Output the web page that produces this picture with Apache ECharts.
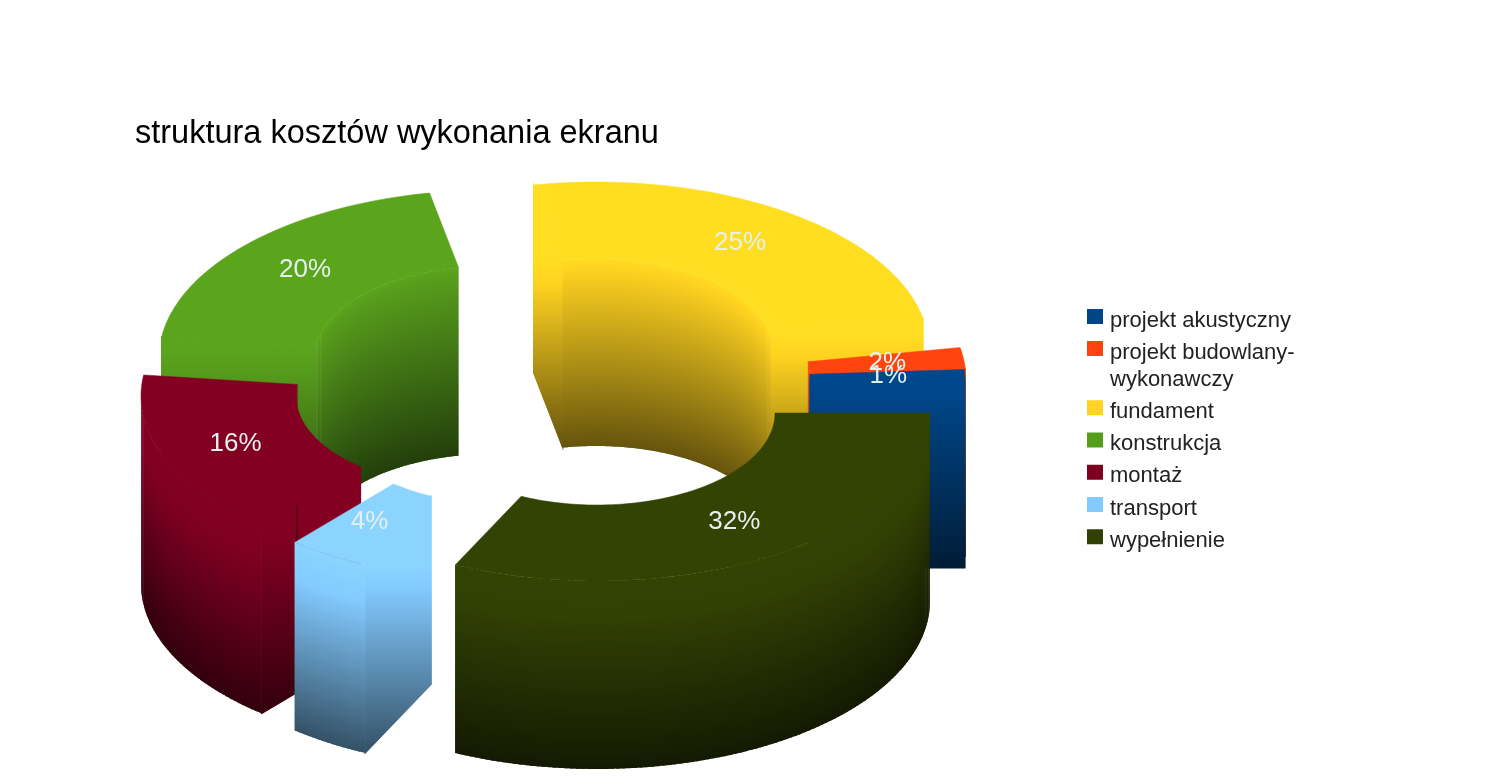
<!DOCTYPE html>
<html><head><meta charset="utf-8">
<style>html,body{margin:0;padding:0;background:#fff}#c{width:1508px;height:783px;filter:blur(0.5px)}</style>
<script src="https://cdn.jsdelivr.net/npm/echarts@6/dist/echarts.min.js"></script>
</head><body><div id="c"></div>
<script>
const titleText = 'struktura kosztów wykonania ekranu';
// legend order
const categories = ['projekt akustyczny','projekt budowlany-wykonawczy','fundament','konstrukcja','montaż','transport','wypełnienie'];
const values = [1,2,25,20,16,4,32];
const colors = ['#004586','#ff420e','#ffd320','#579d1c','#7e0021','#83caff','#314004'];
// clockwise sweep order of the slices, starting at 3 o'clock
const sweepOrder = [6,5,4,3,2,1,0];
// paint order back to front
const paintOrder = [3,2,1,0,4,5,6];
// displaced slice centres on the page (exploded look)
const centreX = [632,633,596,492,474,507,597];
const centreY = [380,379,350,358,396,413,413];
const RX=333, RY=168, rx=178, ry=92, H=188;

const total = values.reduce((a,b)=>a+b,0);
const spans = {}; let acc=0;
sweepOrder.forEach(i=>{const s=acc; acc+=values[i]/total*360; spans[i]=[s,acc];});
const rad=d=>d*Math.PI/180;
const pt=(i,a,outer)=>[centreX[i]+(outer?RX:rx)*Math.cos(rad(a)), centreY[i]+(outer?RY:ry)*Math.sin(rad(a))];
function shade(hex,f){const n=parseInt(hex.slice(1),16);
  return 'rgb('+[(n>>16)&255,(n>>8)&255,n&255].map(v=>Math.min(255,Math.round(v*f))).join(',')+')';}
function wallFill(hex,y,plateau){return {type:'linear',global:true,x:0,y:y,x2:0,y2:y+H,colorStops:[
  {offset:0,color:shade(hex,1.05)},{offset:plateau,color:shade(hex,1.0)},{offset:1,color:shade(hex,0.4)}]};}
function quad(p,q,c,gy,plateau,edge){const f=wallFill(c,gy===undefined?(p[1]+q[1])/2:gy,plateau);
  const style={fill:f}; if(edge){style.stroke=f;style.lineWidth=1.2;}
  return {type:'polygon',shape:{points:[p,q,[q[0],q[1]+H],[p[0],p[1]+H]]},style:style};}
// each strip runs a little under the next one, so no seam shows between them
function strips(i,a,b,outer,c,plateau){const out=[];const lo=Math.min(a,b),hi=Math.max(a,b);
  for(let t=lo;t<hi-1e-6;t+=1){
    const p=pt(i,t,outer),q=pt(i,Math.min(t+1,hi),outer),r=pt(i,Math.min(t+1.7,hi),outer);
    out.push(quad(p,r,c,(p[1]+q[1])/2,plateau,false));
  }
  return out;}
function sliceRender(i){
  const c=colors[i],[a,b]=spans[i],kids=[];
  // radial faces first, so the curved walls overlap their slightly stroked edges
  if(Math.cos(rad(a))<0){const p=pt(i,a,false),q=pt(i,a,true);kids.push(quad(p,q,c,Math.max(p[1],q[1]),0.12,true));}
  if(Math.cos(rad(b))>0){const p=pt(i,b,false),q=pt(i,b,true);kids.push(quad(p,q,c,Math.max(p[1],q[1]),0.12,true));}
  const ia=Math.max(a,180),ib=Math.min(b,360);
  if(ib>ia) kids.push(...strips(i,ia,ib,false,c,0.05));
  const oa=Math.max(a,0),ob=Math.min(b,180);
  if(ob>oa) kids.push(...strips(i,oa,ob,true,c,0.2));
  const top=[];
  for(let t=a;t<b;t+=1.5) top.push(pt(i,t,true));
  top.push(pt(i,b,true));
  for(let t=b;t>a;t-=1.5) top.push(pt(i,t,false));
  top.push(pt(i,a,false));
  const tc=shade(c,1.05);
  kids.push({type:'polygon',shape:{points:top},style:{fill:tc,stroke:tc,lineWidth:0.5}});
  return {type:'group',children:kids};
}
const sliceSeries = paintOrder.map((i,k)=>({
  type:'custom',name:categories[i],coordinateSystem:'none',z:2+k,silent:true,animation:false,
  itemStyle:{color:colors[i]},
  data:[{name:categories[i],value:values[i]}],
  renderItem:()=>sliceRender(i)
}));
const labelSeries={
  type:'custom',name:'etykiety',coordinateSystem:'none',z:20,silent:true,animation:false,
  data:values.map((v,i)=>({name:categories[i],value:v})),
  renderItem:(p,api)=>{
    const i=p.dataIndex,[a,b]=spans[i],m=rad((a+b)/2);
    const x=centreX[i]+0.77*RX*Math.cos(m),y=centreY[i]+0.77*RY*Math.sin(m);
    return {type:'text',style:{text:Math.round(api.value(0)/total*100)+'%',x:x,y:y,align:'center',verticalAlign:'middle',
      fill:'#e4f0ee',font:'26px "Liberation Sans"'}};
  }
};
const legendText={fontFamily:'Liberation Sans',fontSize:22,color:'#222',lineHeight:27};
const wrapName=n=>n==='projekt budowlany-wykonawczy'?'\nprojekt budowlany-\nwykonawczy':n;
// square marker sitting in the top-left of its box, so the text lands slightly below and right of it
const markerIcon='path://M0,0H16V15H0Z M18,23h0.01v0.01h-0.01Z';
const legendBase={orient:'vertical',left:1082,itemWidth:18,itemHeight:23,itemGap:5.25,icon:markerIcon,selectedMode:false,textStyle:legendText,formatter:wrapName,itemStyle:{borderWidth:0}};
const chart=echarts.init(document.getElementById('c'),null,{renderer:'canvas'});
chart.setOption({
  backgroundColor:'#fff',animation:false,
  title:{text:titleText,left:130,top:113,textStyle:{fontFamily:'Liberation Sans',fontSize:32.5,fontWeight:'normal',color:'#000'}},
  legend:[
    Object.assign({},legendBase,{top:302,data:categories.slice(0,1)}),
    Object.assign({},legendBase,{top:307,data:categories.slice(1)})
  ],
  series:[...sliceSeries,labelSeries]
});
</script></body></html>
